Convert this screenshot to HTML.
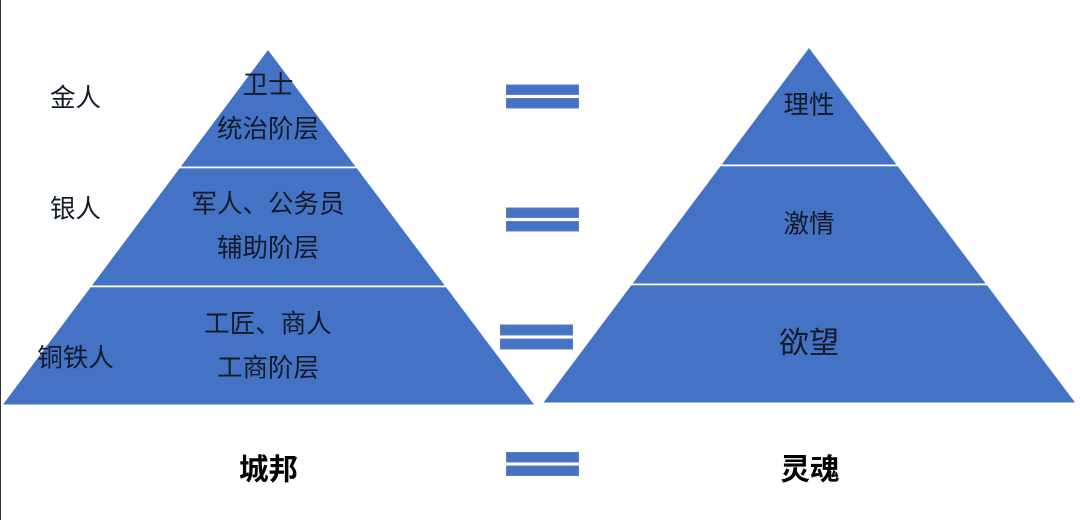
<!DOCTYPE html>
<html lang="zh">
<head>
<meta charset="utf-8">
<style>
html,body{margin:0;padding:0;background:#fff}
body{width:1080px;height:520px;overflow:hidden}
svg{display:block}
text{font-family:"Liberation Sans","Noto Sans CJK SC",sans-serif;fill:#141b28;text-anchor:middle;dominant-baseline:central}
.l{font-size:25.500px}
.b{font-size:29.500px;font-weight:700;fill:#000}
</style>
</head>
<body>
<svg width="1080" height="520" viewBox="0 0 1080 520" xmlns="http://www.w3.org/2000/svg">
<rect width="1080" height="520" fill="#fff"/>
<rect x="0" y="0" width="1" height="520" fill="#333"/>

<!-- Left pyramid -->
<polygon points="268,50 534,404.5 3,404.5" fill="#4472c4"/>
<rect x="170" y="166.5" width="196" height="1.8" fill="#fff"/>
<rect x="80" y="285.5" width="376" height="1.8" fill="#fff"/>

<!-- Right pyramid -->
<polygon points="809,48 1075,402.5 543.500,402.5" fill="#4472c4"/>
<rect x="712" y="164.5" width="196" height="1.8" fill="#fff"/>
<rect x="622" y="283.5" width="376" height="1.8" fill="#fff"/>

<!-- Equals bars -->
<g fill="#4472c4" stroke="#5b7fb8" stroke-width="1">
<rect x="506.5" y="85" width="72" height="9.5"/>
<rect x="506.5" y="98.5" width="72" height="9.5"/>
<rect x="506.5" y="208" width="72" height="9.5"/>
<rect x="506.5" y="221.5" width="72" height="9.5"/>
<rect x="500.5" y="325" width="72" height="10"/>
<rect x="500.5" y="339" width="72" height="10"/>
<rect x="506.5" y="452.5" width="72" height="9.5"/>
<rect x="506.5" y="466" width="72" height="9.5"/>
</g>

<!-- Left labels -->
<text class="l" x="75.500" y="98.500">金人</text>
<text class="l" x="75.500" y="209.500">银人</text>
<text class="l" x="75.500" y="358.500">铜铁人</text>

<!-- Left pyramid text -->
<text class="l" x="268" y="85.500">卫士</text>
<text class="l" x="268" y="129.500">统治阶层</text>
<text class="l" x="268" y="204.500">军人、公务员</text>
<text class="l" x="268" y="248.500">辅助阶层</text>
<text class="l" x="268" y="324.500">工匠、商人</text>
<text class="l" x="268" y="368.500">工商阶层</text>

<!-- Right pyramid text -->
<text class="l" x="809" y="105.500">理性</text>
<text class="l" x="809" y="224.500">激情</text>
<text x="809" y="343.500" style="font-size:30px">欲望</text>

<!-- Bottom titles -->
<text class="b" x="268.500" y="470">城邦</text>
<text class="b" x="810" y="470">灵魂</text>
</svg>
</body>
</html>
